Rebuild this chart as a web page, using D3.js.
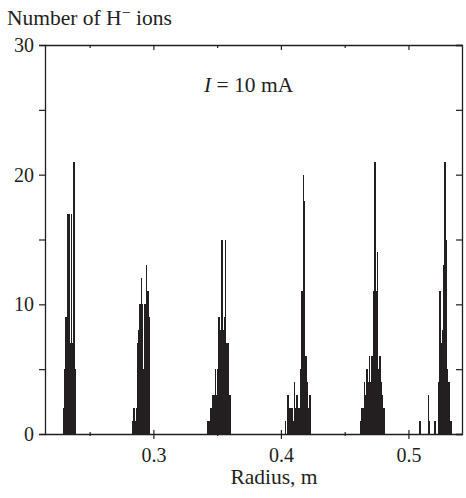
<!DOCTYPE html>
<html>
<head>
<meta charset="utf-8">
<script src="https://cdn.jsdelivr.net/npm/d3@7"></script>
<style>
  body { margin: 0; background: #fff; }
  text { font-family: "Liberation Serif", "DejaVu Serif", serif; fill: #231f20; }
</style>
</head>
<body>
<svg id="chart" width="466" height="498"></svg>
<script>
// ---- data ----
const binWidth = 0.001;            // m, histogram bin width
const clusterStarts = [0.229, 0.283, 0.342, 0.403, 0.462, 0.508];
const counts1 = [2, 5, 9, 17, 17, 7, 17, 7, 21, 5];
const counts2 = [1, 2, 1, 2, 7, 8, 10, 12, 10, 5, 10, 13, 11, 9];
const counts3 = [1, 1, 2, 2, 3, 3, 5, 3, 5, 9, 8, 15, 8, 9, 15, 7, 7, 3, 3];
const counts4 = [1, 0, 3, 2, 2, 2, 1, 4, 2, 3, 2, 2, 5, 11, 20, 18, 6, 4, 2, 3];
const counts5 = [1, 2, 2, 4, 3, 5, 4, 6, 4, 6, 11, 21, 11, 14, 5, 6, 4, 3, 2];
const counts6 = [1, 1, 0, 0, 0, 0, 0, 3, 1, 0, 0, 0, 1, 0, 0, 4, 11, 7, 8, 13, 21, 15, 5, 4, 1, 1];
const clusterCounts = [counts1, counts2, counts3, counts4, counts5, counts6];

const xTicks = [0.25, 0.3, 0.35, 0.4, 0.45, 0.5];
const xLabels = [0.3, 0.4, 0.5];
const yTicks = [0, 5, 10, 15, 20, 25, 30];
const yLabels = [0, 10, 20, 30];

// ---- build bins ----
const bins = [];
clusterStarts.forEach((s, ci) => {
  clusterCounts[ci].forEach((c, i) => {
    const r0 = +(s + i * binWidth).toFixed(4);
    bins.push({ r0: r0, r1: +(r0 + binWidth).toFixed(4), n: c });
  });
});

// ---- layout ----
const svg = d3.select("#chart");
const L = 45, R = 462, T = 45, B = 434;
const ink = "#231f20";

const x = d3.scaleLinear().domain([0.215, 0.542]).range([L, R]);
const y = d3.scaleLinear().domain([0, 30]).range([B, T]);
const isLabel = d => xLabels.some(v => Math.abs(v - d) < 1e-9);

// bars
svg.append("g").attr("shape-rendering", "crispEdges").selectAll("rect")
  .data(bins.filter(d => d.n > 0))
  .join("rect")
  .attr("x", d => x(d.r0))
  .attr("width", d => x(d.r1) - x(d.r0) + 0.3)
  .attr("y", d => y(d.n))
  .attr("height", d => y(0) - y(d.n))
  .attr("fill", ink);

function styleAxis(g) {
  g.selectAll("path.domain").attr("stroke", ink).attr("stroke-width", 1.3);
  g.selectAll(".tick line").attr("stroke", ink).attr("stroke-width", 1.2);
  g.selectAll("text").attr("fill", ink).style("font-family", '"Liberation Serif", serif');
}

// bottom axis
const gB = svg.append("g").attr("transform", `translate(0,${B})`)
  .call(d3.axisBottom(x).tickValues(xTicks).tickSizeOuter(0)
    .tickFormat(d => isLabel(d) ? d3.format(".1f")(d) : ""));
gB.selectAll(".tick line")
  .attr("y1", d => isLabel(d) ? -4 : -2)
  .attr("y2", d => isLabel(d) ? 5 : 2);
gB.selectAll(".tick text").attr("y", 13.5).attr("font-size", 20);
gB.selectAll(".tick text").filter(d => !isLabel(d)).remove();
styleAxis(gB);

// top axis (ticks inward)
const gT = svg.append("g").attr("transform", `translate(0,${T})`)
  .call(d3.axisTop(x).tickValues(xTicks).tickSizeOuter(0).tickFormat(""));
gT.selectAll(".tick line").attr("y2", d => isLabel(d) ? 5 : 3);
gT.selectAll(".tick text").remove();
styleAxis(gT);

// left axis
const gL = svg.append("g").attr("transform", `translate(${L},0)`)
  .call(d3.axisLeft(y).tickValues(yTicks).tickSizeOuter(0).tickSize(6).tickPadding(5)
    .tickFormat(d => yLabels.includes(d) ? d : ""));
gL.selectAll(".tick text").attr("font-size", 20);
gL.selectAll(".tick text").filter(d => !yLabels.includes(d)).remove();
styleAxis(gL);

// right axis (ticks inward)
const gR = svg.append("g").attr("transform", `translate(${R},0)`)
  .call(d3.axisRight(y).tickValues(yTicks).tickSizeOuter(0).tickSize(-6).tickFormat(""));
gR.selectAll(".tick text").remove();
styleAxis(gR);

// y title
const yt = svg.append("text").attr("x", 7).attr("y", 25).attr("font-size", 21.5);
yt.append("tspan").text("Number of H");
yt.append("tspan").attr("dy", -7).attr("font-size", 16).text("\u2212");
yt.append("tspan").attr("dy", 7).text(" ions");

// x title
svg.append("text").attr("x", 274).attr("y", 484).attr("text-anchor", "middle")
  .attr("font-size", 21.5).text("Radius, m");

// annotation
const ann = svg.append("text").attr("x", 204).attr("y", 92).attr("font-size", 21.5);
ann.append("tspan").attr("font-style", "italic").text("I");
ann.append("tspan").text(" = 10 mA");
</script>
</body>
</html>
